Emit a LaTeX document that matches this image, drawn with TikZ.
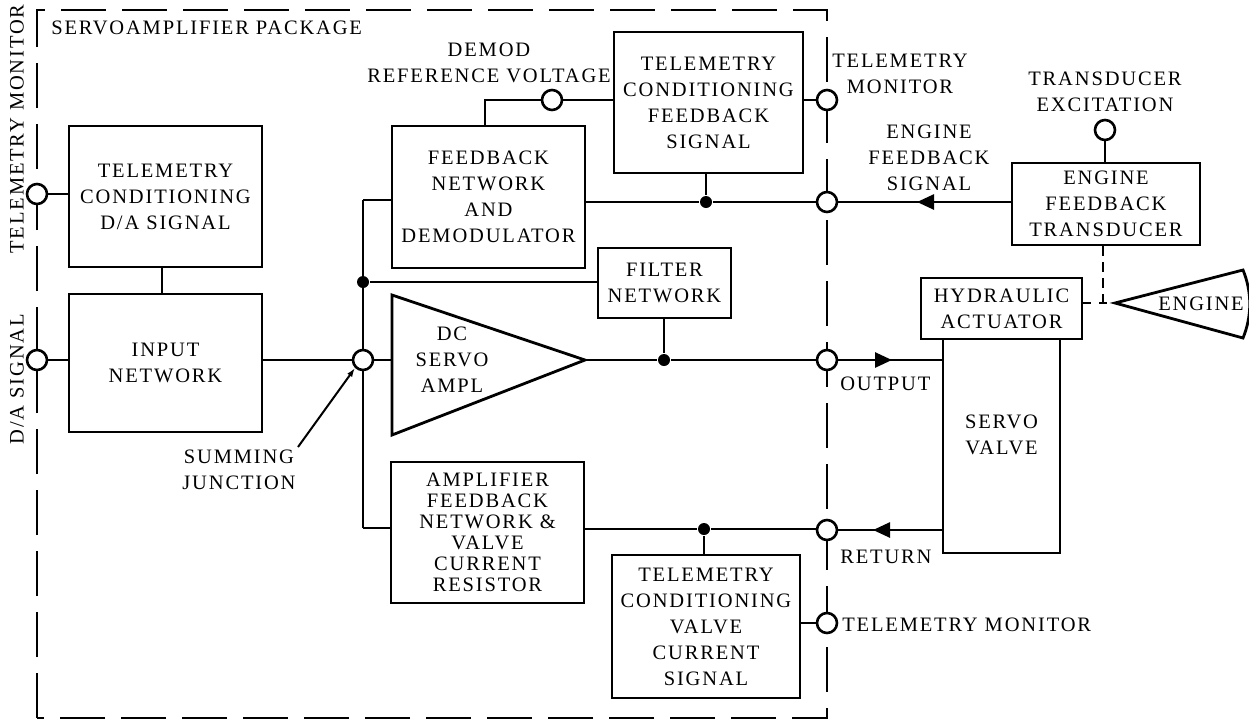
\documentclass[tikz,border=0pt]{standalone}
\usepackage{fontspec}
\setmainfont{Liberation Serif}[LetterSpace=9]
\usetikzlibrary{arrows.meta}
\newcommand\dtxt{\fontsize{20.5}{26}\selectfont}
\newcommand\dtight{\fontsize{20.5}{21}\selectfont}
\begin{document}
\begin{tikzpicture}[x=1pt,y=-1pt,line width=2.6pt,
  box/.style={draw,line width=2.8pt,align=center,inner sep=0pt,font=\dtxt},
  lbl/.style={align=center,inner sep=0pt,font=\dtxt},
  port/.style={circle,draw,fill=white,line width=2.6pt,minimum size=20pt,inner sep=0pt},
  dot/.style={circle,fill=black,minimum size=12pt,inner sep=0pt},
  border/.style={line width=2.4pt,dash pattern=on 45pt off 16pt},
  tip/.style={-{Triangle[length=17pt,width=15pt]}},
  link/.style={line width=2.6pt}]
\useasboundingbox (0,0) rectangle (1249,721);

% package border
\draw[border] (37,718) -- (37,10) -- (827,10) -- (827,718) -- cycle;
\node[lbl,anchor=west] (pkg) at (50,28) {SERVOAMPLIFIER PACKAGE};

% left labels
\node[lbl,rotate=90] (ltm) at (17,129) {TELEMETRY MONITOR};
\node[lbl,rotate=90] (lda) at (17,379) {D/A SIGNAL};

% boxes
\node[box,minimum width=193pt,minimum height=141pt] (tcda) at (165.5,196.5) {TELEMETRY\\CONDITIONING\\D/A SIGNAL};
\node[box,minimum width=193pt,minimum height=138pt] (inp) at (165.5,363) {INPUT\\NETWORK};
\node[box,minimum width=193pt,minimum height=142pt] (fbn) at (488.5,197) {FEEDBACK\\NETWORK\\AND\\DEMODULATOR};
\node[box,minimum width=189pt,minimum height=141pt] (tcfb) at (708.5,102.5) {TELEMETRY\\CONDITIONING\\FEEDBACK\\SIGNAL};
\node[box,minimum width=133pt,minimum height=70pt] (filt) at (664.5,283) {FILTER\\NETWORK};
\node[box,minimum width=193pt,minimum height=141pt,font=\dtight] (afb) at (487.5,532.5) {AMPLIFIER\\FEEDBACK\\NETWORK \&\\VALVE\\CURRENT\\RESISTOR};
\node[box,minimum width=188pt,minimum height=143pt] (tcvc) at (706,626.5) {TELEMETRY\\CONDITIONING\\VALVE\\CURRENT\\SIGNAL};
\node[box,minimum width=188pt,minimum height=82pt] (eft) at (1106,204) {ENGINE\\FEEDBACK\\TRANSDUCER};
\node[box,minimum width=161pt,minimum height=61pt] (hyd) at (1001.5,308.5) {HYDRAULIC\\ACTUATOR};
\node[box,minimum width=117pt,minimum height=214pt] (sv) at (1001.5,446) {};
\node[lbl] (svt) at (1001.5,435) {SERVO\\VALVE};

% amplifier triangle
\draw[line width=2.8pt] (392,295) -- (585,360) -- (392,435) -- cycle;
\coordinate (ampin) at (392,360);
\coordinate (amptip) at (585,360);
\node[lbl] (ampt) at (452,360) {DC\\SERVO\\AMPL};

% engine
\draw[line width=2.8pt] (1115,303) -- (1243,270) .. controls (1252,292) and (1252,316) .. (1243,338) -- cycle;
\coordinate (etip) at (1115,303);
\node[lbl] (eng) at (1201,304) {ENGINE};

% ports and junctions
\coordinate (c1) at (363,200);
\coordinate (c2) at (363,528);
\coordinate (c3) at (485,100);
\coordinate (cd) at (1103,303);
\node[dot] (j1) at (363,282) {};
\node[dot] (j2) at (706,202) {};
\node[dot] (j3) at (664,360) {};
\node[dot] (j4) at (704,529) {};

% connectors
\draw[link] (tcda.south -| 162,0) -- (inp.north -| 162,0);
\draw[link] (inp.east |- 0,360) -- (363,360);
\draw[link] (363,360) -- (ampin);
\draw[link] (c1) -- (c2);
\draw[link] (c1) -- (fbn.west |- c1);
\draw[link] (c2) -- (afb.west |- c2);
\draw[link] (j1) -- (filt.west |- j1);
\draw[link] (filt.south -| j3) -- (j3);
\draw[link] (amptip) -- (j3) -- (827,360);
\draw[link,tip] (827,360) -- (892,360);
\draw[link] (888,360) -- (sv.west |- 0,360);
\draw[link] (fbn.north -| c3) -- (c3) -- (tcfb.west |- c3);
\draw[link] (tcfb.east |- 0,100) -- (827,100);
\draw[link] (tcfb.south -| j2) -- (j2);
\draw[link] (fbn.east |- j2) -- (j2) -- (827,202);
\draw[link,tip] (eft.west |- j2) -- (917,202);
\draw[link] (920,202) -- (827,202);
\draw[link] (1105,130) -- (eft.north -| 1105,0);
\draw[link,dash pattern=on 10pt off 6pt] (eft.south -| cd) -- (cd);
\draw[link,dash pattern=on 8pt off 8pt] (hyd.east |- etip) -- (etip);
\draw[link] (afb.east |- j4) -- (j4) -- (827,529);
\draw[link,tip] (sv.west |- 0,530) -- (873,530);
\draw[link] (876,530) -- (827,530);
\draw[link] (j4) -- (tcvc.north -| j4);
\draw[link] (tcvc.east |- 0,623) -- (827,623);
\draw[link] (37,194) -- (tcda.west |- 0,194);
\draw[link] (37,360) -- (inp.west |- 0,360);

% open circles
\node[port] (sj) at (363,360) {};
\node[port] (dmr) at (552,100) {};
\node[port] (l1) at (37,194) {};
\node[port] (l2) at (37,360) {};
\node[port] (m1) at (827,100) {};
\node[port] (m2) at (827,202) {};
\node[port] (m3) at (827,360) {};
\node[port] (m4) at (827,530) {};
\node[port] (m5) at (827,623) {};
\node[port] (te) at (1105,130) {};

% labels
\node[lbl] (sjl) at (239,470) {SUMMING\\JUNCTION};
\draw[line width=2pt,-{Latex[length=9pt,width=6pt]}] (298,447) -- (sj.south west);
\node[lbl] (dmrl) at (489,63) {DEMOD\\REFERENCE VOLTAGE};
\node[lbl] (rtm) at (900,74) {TELEMETRY\\MONITOR};
\node[lbl] (efs) at (929,158) {ENGINE\\FEEDBACK\\SIGNAL};
\node[lbl] (tel) at (1105,92) {TRANSDUCER\\EXCITATION};
\node[lbl,anchor=west] (outl) at (839,384) {OUTPUT};
\node[lbl,anchor=west] (retl) at (839,557) {RETURN};
\node[lbl,anchor=west] (btm) at (841,625) {TELEMETRY MONITOR};
\end{tikzpicture}
\end{document}
